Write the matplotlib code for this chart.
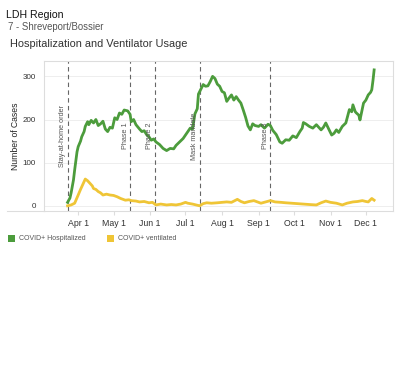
import matplotlib.pyplot as plt
import matplotlib.dates as mdates
import pandas as pd
from matplotlib.lines import Line2D
from matplotlib.patches import Rectangle

plt.rcParams['font.family'] = ['Liberation Sans', 'DejaVu Sans']

# values (2020)
hosp_dates = ["03-23", "03-25", "03-26", "03-28", "03-29", "03-31", "04-01", "04-03", "04-04", "04-06",
              "04-07", "04-09", "04-10", "04-12", "04-14", "04-16", "04-18", "04-20", "04-22", "04-24",
              "04-26", "04-28", "04-30", "05-02", "05-04", "05-06", "05-08", "05-10", "05-13", "05-15",
              "05-16", "05-18", "05-20", "05-23", "05-25", "05-27", "05-29", "05-31", "06-02", "06-04",
              "06-06", "06-09", "06-12", "06-15", "06-18", "06-21", "06-23", "06-26", "06-29", "07-02",
              "07-05", "07-07", "07-09", "07-11", "07-12", "07-14", "07-16", "07-18", "07-20", "07-22",
              "07-24", "07-26", "07-28", "07-30", "08-01", "08-03", "08-05", "08-07", "08-09", "08-11",
              "08-13", "08-15", "08-17", "08-19", "08-21", "08-23", "08-25", "08-27", "08-29", "09-01",
              "09-03", "09-06", "09-09", "09-11", "09-13", "09-16", "09-19", "09-21", "09-24", "09-27",
              "09-30", "10-03", "10-06", "10-08", "10-09", "10-11", "10-14", "10-17", "10-20", "10-22",
              "10-24", "10-26", "10-28", "10-31", "11-02", "11-04", "11-06", "11-08", "11-11", "11-14",
              "11-17", "11-19", "11-20", "11-22", "11-23", "11-25", "11-26", "11-28", "11-29", "12-01",
              "12-03", "12-05", "12-06", "12-07", "12-08"]
hosp_values = [8, 18, 30, 60, 83, 125, 137, 150, 160, 172,
               184, 195, 188, 198, 192, 200, 186, 190, 196, 178,
               172, 182, 180, 204, 200, 215, 212, 222, 220, 212,
               195, 200, 188, 178, 172, 174, 165, 160, 152, 155,
               148, 142, 133, 128, 133, 132, 140, 148, 156, 168,
               180, 178, 213, 225, 259, 270, 281, 277, 278, 288,
               300, 295, 282, 277, 265, 262, 242, 250, 257, 245,
               253, 245, 238, 222, 205, 185, 176, 190, 186, 184,
               188, 180, 189, 186, 175, 165, 148, 145, 153, 152,
               162, 158, 172, 180, 193, 190, 184, 180, 188, 182,
               176, 182, 192, 175, 164, 168, 176, 170, 184, 192,
               223, 218, 234, 218, 215, 210, 199, 225, 238, 245,
               257, 263, 269, 290, 315]

vent_dates = ["03-23", "03-26", "03-29", "04-01", "04-03", "04-05", "04-07", "04-09", "04-11", "04-13",
              "04-14", "04-16", "04-18", "04-20", "04-22", "04-25", "04-28", "05-01", "05-04", "05-07",
              "05-11", "05-14", "05-16", "05-20", "05-23", "05-27", "05-31", "06-03", "06-06", "06-10",
              "06-15", "06-19", "06-23", "06-27", "07-01", "07-03", "07-07", "07-10", "07-13", "07-16",
              "07-19", "07-23", "07-28", "08-01", "08-05", "08-09", "08-14", "08-17", "08-20", "08-24",
              "08-28", "09-01", "09-03", "09-07", "09-11", "09-15", "09-20", "09-24", "09-29", "10-04",
              "10-09", "10-14", "10-20", "10-24", "10-28", "11-01", "11-06", "11-11", "11-15", "11-20",
              "11-24", "11-28", "12-01", "12-03", "12-06", "12-08"]
vent_values = [0, 2, 6, 25, 38, 50, 62, 58, 52, 46,
               40, 38, 33, 30, 25, 27, 25, 24, 21, 17,
               13, 14, 12, 11, 9, 10, 7, 8, 2, 4,
               2, 3, 2, 4, 8, 6, 4, 2, 0, 5,
               7, 6, 7, 8, 9, 8, 15, 10, 7, 10,
               12, 8, 6, 9, 12, 9, 8, 7, 6, 5,
               4, 3, 2, 7, 11, 8, 6, 2, 6, 9,
               10, 12, 10, 9, 17, 13]

events = ["Stay-at-home order", "Phase 1", "Phase 2", "Mask mandate", "Phase 3"]
event_dates = ["03-23", "05-15", "06-05", "07-13", "09-11"]

green = '#4c9c3c'
yellow = '#efc536'

def to_dt(ds):
    return pd.to_datetime(["2020-" + d for d in ds])

fig = plt.figure(figsize=(4, 3.85), dpi=100)
ax = fig.add_axes([0.11, 0.452, 0.8725, 0.39])

ax.plot(to_dt(hosp_dates), hosp_values, color=green, lw=2.0, solid_joinstyle='round')
ax.plot(to_dt(vent_dates), vent_values, color=yellow, lw=2.0, solid_joinstyle='round')

for name, d in zip(events, to_dt(event_dates)):
    ax.axvline(d, color='#666666', lw=0.8, ls=(0, (4, 3)), zorder=1)
    ax.annotate(name, xy=(d, 0.5), xycoords=('data', 'axes fraction'),
                xytext=(-1, 0), textcoords='offset points', rotation=90,
                ha='right', va='center', fontsize=5.2, color='#555555')

ax.set_xlim(pd.Timestamp('2020-03-03'), pd.Timestamp('2020-12-24'))
ax.set_ylim(-12, 336)
ax.set_yticks([0, 100, 200, 300])
ax.grid(axis='y', color='#eeeeee', lw=0.7)
ax.set_axisbelow(True)

ax.xaxis.set_major_locator(mdates.MonthLocator(bymonth=range(4, 13)))
ax.xaxis.set_major_formatter(mdates.DateFormatter('%b %-d'))
ax.tick_params(axis='x', labelsize=6.3, colors='#dddddd', labelcolor='#333333', length=3, pad=2.5)
ax.tick_params(axis='y', labelsize=5.8, labelcolor='#333333', length=0, pad=6)
for s in ax.spines.values():
    s.set_color('#dddddd')
    s.set_linewidth(0.8)
ax.set_ylabel('Number of Cases', fontsize=6.2, color='#222222', labelpad=2)

# bottom rule runs under the y labels
fig.add_artist(Line2D([7 / 400, 44 / 400], [1 - 211 / 385] * 2, color='#dddddd', lw=0.8))

fig.text(6 / 400, 1 - 18 / 385, 'LDH Region', fontsize=7.6, color='#111111')
fig.text(8 / 400, 1 - 30 / 385, '7 - Shreveport/Bossier', fontsize=6.9, color='#555555')
fig.text(10 / 400, 1 - 47 / 385, 'Hospitalization and Ventilator Usage', fontsize=7.9, color='#333333')

# legend
for x0, col, lab in [(8, green, 'COVID+ Hospitalized'), (107, yellow, 'COVID+ ventilated')]:
    fig.add_artist(Rectangle((x0 / 400, 1 - 242 / 385), 7 / 400, 7 / 385,
                             transform=fig.transFigure, facecolor=col, edgecolor='none'))
    fig.text((x0 + 11) / 400, 1 - 238.5 / 385, lab, fontsize=5, color='#555555', va='center')

fig.savefig('out.png', dpi=100)
